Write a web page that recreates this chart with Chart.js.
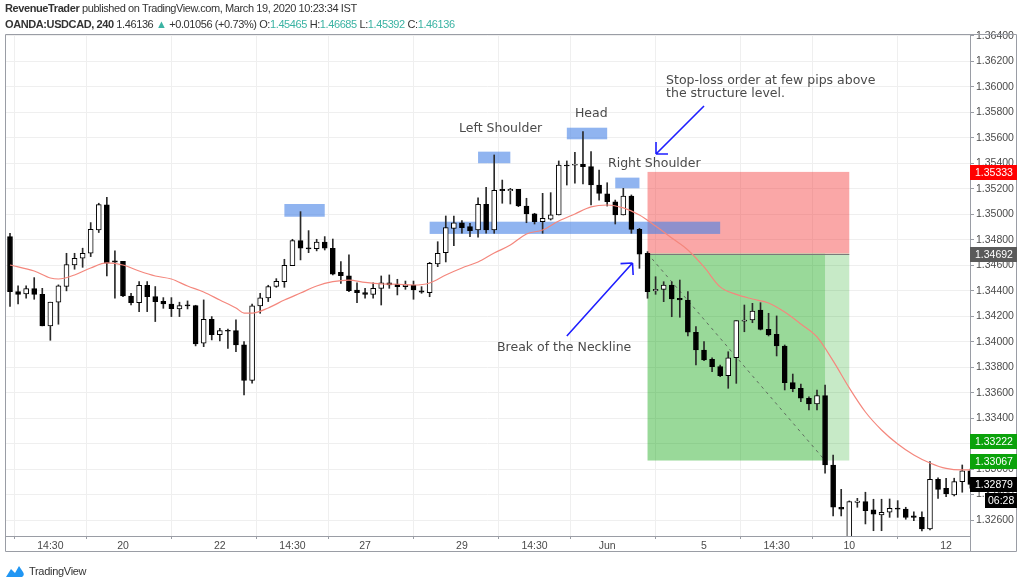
<!DOCTYPE html>
<html lang="en">
<head>
<meta charset="UTF-8">
<title>USDCAD 240 - Head and Shoulders</title>
<script src="https://cdn.jsdelivr.net/npm/chart.js"></script>
<style>
    body {
        margin: 0;
        background: #ffffff;
        width: 1024px;
        height: 586px;
        overflow: hidden;
        position: relative;
        font-family: 'Liberation Sans', sans-serif;
    }
    canvas {
        position: absolute;
        left: 0;
        top: 0;
    }
    .hdr {
        position: absolute;
        left: 5px;
        font-size: 11px;
        letter-spacing: -0.4px;
        color: #333;
        white-space: nowrap;
    }
    .hdr .v { color: #3bb3a3; }
    #foot {
        position: absolute;
        left: 5px;
        top: 564px;
        font-size: 11px;
        letter-spacing: -0.3px;
        color: #333;
        display: flex;
        align-items: center;
    }
    #foot svg { margin-right: 4px; }
</style>
</head>
<body>

<canvas id="chart" width="1024" height="586"></canvas>

<div class="hdr" style="top:2px"><b>RevenueTrader</b> published on TradingView.com, March 19, 2020 10:23:34 IST</div>
<div class="hdr" style="top:18px"><b>OANDA:USDCAD, 240</b> 1.46136 <span class="v">▲</span> +0.01056 (+0.73%) O:<span class="v">1.45465</span> H:<span class="v">1.46685</span> L:<span class="v">1.45392</span> C:<span class="v">1.46136</span></div>

<div id="foot">
    <svg width="20" height="14" viewBox="0 0 20 14">
        <path d="M1 13 L6 5 L10 9 L14 2 L18 8 Q20 11 17 13 Z" fill="#2196f3"/>
    </svg>
    TradingView
</div>

<script>
    // candles (4h bars), index 0..119
    const openP = [
        1.34825, 1.34393, 1.34375, 1.34417, 1.34372, 1.34124, 1.34310, 1.34433, 1.34603, 1.34655,
        1.34694, 1.34877, 1.35074, 1.34634, 1.34631, 1.34359, 1.34307, 1.34443, 1.34354, 1.34317,
        1.34296, 1.34257, 1.34283, 1.34283, 1.33988, 1.34176, 1.34056, 1.34087, 1.34087, 1.33975,
        1.33695, 1.34281, 1.34344, 1.34433, 1.34472, 1.34597, 1.34794, 1.34736, 1.34731, 1.34783,
        1.34733, 1.34545, 1.34518, 1.34406, 1.34385, 1.34372, 1.34419, 1.34463, 1.34453, 1.34432,
        1.34445, 1.34400, 1.34385, 1.34610, 1.34699, 1.34890, 1.34934, 1.34903, 1.34877, 1.35079,
        1.34877, 1.35196, 1.35185, 1.35196, 1.35065, 1.35003, 1.34942, 1.34961, 1.34995, 1.35387,
        1.35385, 1.35393, 1.35374, 1.35230, 1.35160, 1.35099, 1.34995, 1.35144, 1.34882, 1.34694,
        1.34398, 1.34411, 1.34445, 1.34341, 1.34327, 1.34074, 1.33935, 1.33862, 1.33804, 1.33733,
        1.33874, 1.34162, 1.34170, 1.34249, 1.34097, 1.34058, 1.33966, 1.33678, 1.33634, 1.33556,
        1.33511, 1.33576, 1.33032, 1.32700, 1.32450, 1.32739, 1.32744, 1.32679, 1.32639, 1.32661,
        1.32692, 1.32686, 1.32632, 1.32621, 1.32530, 1.32920, 1.32849, 1.32796, 1.32901, 1.32987
    ];
    const highP = [
        1.34851, 1.34438, 1.34438, 1.34503, 1.34419, 1.34310, 1.34446, 1.34694, 1.34694, 1.34734,
        1.34935, 1.35087, 1.35134, 1.34713, 1.34631, 1.34380, 1.34472, 1.34472, 1.34433, 1.34346,
        1.34346, 1.34310, 1.34320, 1.34286, 1.34328, 1.34197, 1.34105, 1.34098, 1.34171, 1.34001,
        1.34296, 1.34380, 1.34443, 1.34495, 1.34647, 1.34804, 1.35021, 1.34872, 1.34804, 1.34825,
        1.34806, 1.34628, 1.34681, 1.34463, 1.34419, 1.34463, 1.34516, 1.34524, 1.34490, 1.34476,
        1.34476, 1.34432, 1.34623, 1.34785, 1.34987, 1.34987, 1.34950, 1.34930, 1.35130, 1.35212,
        1.35466, 1.35269, 1.35204, 1.35196, 1.35126, 1.35008, 1.35165, 1.35170, 1.35419, 1.35419,
        1.35487, 1.35649, 1.35492, 1.35348, 1.35248, 1.35112, 1.35204, 1.35152, 1.34890, 1.34707,
        1.34510, 1.34471, 1.34471, 1.34484, 1.34393, 1.34118, 1.34000, 1.33874, 1.33817, 1.33921,
        1.34165, 1.34288, 1.34301, 1.34306, 1.34223, 1.34202, 1.33974, 1.33746, 1.33668, 1.33568,
        1.33621, 1.33660, 1.33110, 1.32841, 1.32750, 1.32770, 1.32818, 1.32763, 1.32763, 1.32765,
        1.32752, 1.32700, 1.32665, 1.32665, 1.33058, 1.32932, 1.32928, 1.32928, 1.33032, 1.33000
    ];
    const lowP = [
        1.34276, 1.34296, 1.34341, 1.34333, 1.34124, 1.34011, 1.34137, 1.34399, 1.34569, 1.34584,
        1.34668, 1.34857, 1.34516, 1.34341, 1.34354, 1.34289, 1.34236, 1.34236, 1.34158, 1.34262,
        1.34197, 1.34197, 1.34257, 1.33967, 1.33961, 1.34014, 1.34006, 1.33948, 1.33922, 1.33582,
        1.33674, 1.34223, 1.34315, 1.34427, 1.34427, 1.34597, 1.34642, 1.34699, 1.34713, 1.34720,
        1.34524, 1.34458, 1.34393, 1.34306, 1.34341, 1.34341, 1.34288, 1.34419, 1.34367, 1.34411,
        1.34333, 1.34380, 1.34353, 1.34589, 1.34626, 1.34754, 1.34851, 1.34824, 1.34820, 1.34851,
        1.34851, 1.35087, 1.35081, 1.35060, 1.34934, 1.34924, 1.34851, 1.34955, 1.34995, 1.35230,
        1.35244, 1.35238, 1.35073, 1.35112, 1.35065, 1.34924, 1.34995, 1.34851, 1.34576, 1.34341,
        1.34372, 1.34314, 1.34196, 1.34192, 1.34045, 1.33817, 1.33851, 1.33764, 1.33725, 1.33634,
        1.33673, 1.34078, 1.34149, 1.34092, 1.34045, 1.33888, 1.33621, 1.33607, 1.33529, 1.33464,
        1.33464, 1.32967, 1.32632, 1.32632, 1.32440, 1.32700, 1.32569, 1.32516, 1.32516, 1.32621,
        1.32621, 1.32606, 1.32595, 1.32514, 1.32522, 1.32770, 1.32783, 1.32789, 1.32818, 1.32850
    ];
    const closeP = [
        1.34393, 1.34372, 1.34417, 1.34372, 1.34124, 1.34310, 1.34438, 1.34605, 1.34655, 1.34694,
        1.34883, 1.35076, 1.34616, 1.34624, 1.34359, 1.34307, 1.34443, 1.34354, 1.34315, 1.34296,
        1.34260, 1.34283, 1.34281, 1.33982, 1.34176, 1.34056, 1.34087, 1.34082, 1.33975, 1.33695,
        1.34281, 1.34344, 1.34433, 1.34474, 1.34600, 1.34794, 1.34734, 1.34728, 1.34783, 1.34734,
        1.34531, 1.34518, 1.34400, 1.34385, 1.34372, 1.34419, 1.34463, 1.34445, 1.34432, 1.34447,
        1.34406, 1.34388, 1.34615, 1.34694, 1.34895, 1.34934, 1.34895, 1.34871, 1.35079, 1.34877,
        1.35189, 1.35185, 1.35196, 1.35065, 1.35003, 1.34942, 1.34969, 1.34995, 1.35387, 1.35379,
        1.35393, 1.35374, 1.35230, 1.35165, 1.35099, 1.34995, 1.35144, 1.34882, 1.34688, 1.34393,
        1.34411, 1.34445, 1.34335, 1.34327, 1.34074, 1.33935, 1.33856, 1.33804, 1.33733, 1.33874,
        1.34165, 1.34170, 1.34241, 1.34097, 1.34053, 1.33966, 1.33678, 1.33631, 1.33556, 1.33511,
        1.33576, 1.33032, 1.32700, 1.32686, 1.32744, 1.32749, 1.32673, 1.32645, 1.32661, 1.32692,
        1.32686, 1.32621, 1.32621, 1.32530, 1.32920, 1.32841, 1.32804, 1.32901, 1.32987, 1.32879
    ];

    // moving average line at these bar indexes
    const maIdx = [0, 3, 5, 6, 8, 10, 12, 14, 16, 18, 20, 22, 24, 26, 28, 29, 30, 32, 34, 36,
        38, 40, 42, 44, 46, 48, 50, 52, 54, 56, 58, 60, 62, 64, 66, 68, 70, 72, 74, 76,
        78, 80, 82, 84, 86, 88, 90, 92, 94, 96, 98, 100, 102, 104, 106, 108, 110, 112, 114, 116, 118, 119];
    const maVal = [1.34602, 1.34555, 1.34500, 1.34492, 1.34524, 1.34579, 1.34618, 1.34602, 1.34555, 1.34516,
        1.34492, 1.34437, 1.34390, 1.34327, 1.34265, 1.34225, 1.34225, 1.34265, 1.34327, 1.34382,
        1.34437, 1.34471, 1.34484, 1.34465, 1.34453, 1.34451, 1.34445, 1.34461, 1.34524, 1.34579,
        1.34626, 1.34696, 1.34759, 1.34846, 1.34877, 1.34948, 1.35003, 1.35058, 1.35073, 1.35050,
        1.34995, 1.34908, 1.34814, 1.34720, 1.34587, 1.34430, 1.34371, 1.34335, 1.34304, 1.34233,
        1.34139, 1.34037, 1.33849, 1.33637, 1.33448, 1.33307, 1.33197, 1.33111, 1.33048, 1.33005, 1.32993, 1.32993];

    // axes
    const xTickPos = [5, 14, 26, 35, 44, 56, 65, 74, 86, 95, 104, 116];
    const xTickLabels = ['14:30', '20', '22', '14:30', '27', '29', '14:30', 'Jun', '5', '14:30', '10', '12'];
    const yTickVals = [1.326, 1.328, 1.330, 1.332, 1.334, 1.336, 1.338, 1.340, 1.342, 1.344,
        1.346, 1.348, 1.350, 1.352, 1.354, 1.356, 1.358, 1.360, 1.362, 1.364];

    // position tool (entry / stop / target) and drawings
    const entryPrice = 1.34692, stopPrice = 1.35333, targetPrice = 1.33067;
    const posStart = 79, posHit = 101, posEnd = 104;
    const blueBoxes = [
        [34, 39, 1.35081, 1.34981],
        [58, 62, 1.35492, 1.35401],
        [69, 74, 1.35680, 1.35589],
        [75, 78, 1.35288, 1.35204],
        [52, 88, 1.34942, 1.34846]
    ];
    const notes = [
        ['Left Shoulder', 55.65, 1.35668],
        ['Head', 70.0, 1.35793],
        ['Right Shoulder', 74.1, 1.35400],
        ['Stop-loss order at few pips above', 81.3, 1.36049],
        ['the structure level.', 81.3, 1.35950],
        ['Break of the Neckline', 60.35, 1.33955]
    ];
    const arrows = [
        [86.0, 1.35850, 80.05, 1.35474],
        [69.0, 1.34045, 77.14, 1.34618]
    ];
    const priceMarks = [
        [1.35333, '#ff0000'],
        [1.34692, '#5a5a5a'],
        [1.33222, '#0ba20b'],
        [1.33067, '#0ba20b'],
        [1.32879, '#000000']
    ];
    const countdown = '06:28';

    const idx = openP.map((_, i) => i);
    const wickData = idx.map(i => ({ x: i, y: [lowP[i], highP[i]] }));
    const bodyData = idx.map(i => ({ x: i, y: [openP[i], closeP[i]] }));
    const bodyColors = idx.map(i => closeP[i] >= openP[i] ? '#ffffff' : '#000000');
    const maData = maIdx.map((x, k) => ({ x: x, y: maVal[k] }));

    const font = "'Liberation Sans', sans-serif";

    const drawings = {
        id: 'drawings',
        beforeDatasetsDraw(chart) {
            const c = chart.ctx, xs = chart.scales.x, ys = chart.scales.y;
            const X = v => xs.getPixelForValue(v), Y = v => ys.getPixelForValue(v);
            c.save();
            const a = chart.chartArea;
            c.beginPath();
            c.rect(a.left, a.top, a.right - a.left, a.bottom - a.top);
            c.clip();
            // stop zone
            c.fillStyle = 'rgba(245, 60, 60, 0.45)';
            c.fillRect(X(posStart), Y(stopPrice), X(posEnd) - X(posStart), Y(entryPrice) - Y(stopPrice));
            // target zone
            c.fillStyle = 'rgba(0, 160, 0, 0.40)';
            c.fillRect(X(posStart), Y(entryPrice), X(posHit) - X(posStart), Y(targetPrice) - Y(entryPrice));
            c.fillStyle = 'rgba(0, 160, 0, 0.22)';
            c.fillRect(X(posHit), Y(entryPrice), X(posEnd) - X(posHit), Y(targetPrice) - Y(entryPrice));
            // entry line
            c.strokeStyle = '#7a7a7a';
            c.lineWidth = 1;
            c.beginPath();
            c.moveTo(X(posStart), Math.round(Y(entryPrice)) + 0.5);
            c.lineTo(X(posEnd), Math.round(Y(entryPrice)) + 0.5);
            c.stroke();
            // dashed path to target
            c.strokeStyle = 'rgba(80, 80, 80, 0.8)';
            c.setLineDash([3, 4]);
            c.beginPath();
            c.moveTo(X(posStart), Y(entryPrice));
            c.lineTo(X(posHit), Y(targetPrice));
            c.stroke();
            c.setLineDash([]);
            // blue boxes
            c.fillStyle = 'rgba(70, 130, 230, 0.6)';
            blueBoxes.forEach(b => {
                c.fillRect(X(b[0]), Y(b[2]), X(b[1]) - X(b[0]), Y(b[3]) - Y(b[2]));
            });
            c.restore();
        },
        afterDatasetsDraw(chart) {
            const c = chart.ctx, xs = chart.scales.x, ys = chart.scales.y;
            const X = v => xs.getPixelForValue(v), Y = v => ys.getPixelForValue(v);
            c.save();
            // arrows
            c.strokeStyle = '#1f1fff';
            c.lineWidth = 1.6;
            arrows.forEach(ar => {
                const x1 = X(ar[0]), y1 = Y(ar[1]), x2 = X(ar[2]), y2 = Y(ar[3]);
                const ang = Math.atan2(y2 - y1, x2 - x1);
                c.beginPath();
                c.moveTo(x1, y1);
                c.lineTo(x2, y2);
                [Math.PI * 0.75, -Math.PI * 0.75].forEach(d => {
                    c.moveTo(x2, y2);
                    c.lineTo(x2 + 12 * Math.cos(ang + d), y2 + 12 * Math.sin(ang + d));
                });
                c.stroke();
            });
            // labels
            c.fillStyle = '#4a4a4a';
            c.font = "12.5px 'DejaVu Sans', Verdana, sans-serif";
            c.textBaseline = 'middle';
            c.textAlign = 'left';
            notes.forEach(n => c.fillText(n[0], X(n[1]), Y(n[2])));
            c.restore();
        },
        afterDraw(chart) {
            const c = chart.ctx, ys = chart.scales.y, a = chart.chartArea;
            c.save();
            // frame
            c.strokeStyle = '#9a9da5';
            c.lineWidth = 1;
            c.beginPath();
            c.moveTo(a.left + 0.5, a.top + 0.5);
            c.lineTo(1016.5, a.top + 0.5);
            c.lineTo(1016.5, 551.5);
            c.lineTo(a.left + 0.5, 551.5);
            c.closePath();
            c.moveTo(a.right + 0.5, a.bottom);
            c.lineTo(a.right + 0.5, 551.5);
            c.stroke();
            // price labels
            c.font = '10.5px ' + font;
            c.textBaseline = 'middle';
            c.textAlign = 'left';
            let lastY = 0;
            priceMarks.forEach(p => {
                const y = Math.round(ys.getPixelForValue(p[0]));
                c.fillStyle = p[1];
                c.fillRect(a.right, y - 7, 47, 15);
                c.fillStyle = '#ffffff';
                c.fillText(p[0].toFixed(5), a.right + 5, y + 1);
                lastY = y;
            });
            c.fillStyle = '#000000';
            c.fillRect(a.right + 15, lastY + 9, 32, 15);
            c.fillStyle = '#ffffff';
            c.fillText(countdown, a.right + 18, lastY + 17);
            c.restore();
        }
    };

    new Chart(document.getElementById('chart').getContext('2d'), {
        type: 'bar',
        data: {
            datasets: [
                {
                    type: 'line',
                    data: maData,
                    borderColor: '#f4877d',
                    borderWidth: 1.2,
                    pointRadius: 0,
                    cubicInterpolationMode: 'monotone',
                    order: 0
                },
                {
                    data: wickData,
                    backgroundColor: '#2a2a2a',
                    barThickness: 1,
                    grouped: false,
                    order: 2
                },
                {
                    data: bodyData,
                    backgroundColor: bodyColors,
                    borderColor: '#000000',
                    borderWidth: 1,
                    borderSkipped: false,
                    barThickness: 5,
                    minBarLength: 1,
                    grouped: false,
                    order: 1
                }
            ]
        },
        plugins: [drawings],
        options: {
            responsive: false,
            animation: false,
            devicePixelRatio: 1,
            layout: { padding: { left: 5, top: 34, right: 7, bottom: 35 } },
            plugins: {
                legend: { display: false },
                tooltip: { enabled: false }
            },
            scales: {
                x: {
                    type: 'linear',
                    min: -0.62,
                    max: 118.96,
                    offset: false,
                    grid: { color: '#efefef', tickLength: 3, tickColor: '#9a9da5' },
                    border: { color: '#9a9da5' },
                    ticks: {
                        font: { size: 10.5, family: font },
                        color: '#4a4a4a',
                        padding: 1,
                        maxRotation: 0,
                        autoSkip: false,
                        callback: (v, i) => xTickLabels[i]
                    },
                    afterBuildTicks: s => { s.ticks = xTickPos.map(v => ({ value: v })); },
                    afterFit: s => { s.height = 15; }
                },
                y: {
                    position: 'right',
                    min: 1.324744,
                    max: 1.364157,
                    grid: { color: '#efefef', tickLength: 4, tickColor: '#9a9da5' },
                    border: { color: '#9a9da5' },
                    ticks: {
                        font: { size: 10.5, family: font },
                        color: '#4a4a4a',
                        padding: 2,
                        callback: v => v.toFixed(5)
                    },
                    afterBuildTicks: s => { s.ticks = yTickVals.map(v => ({ value: v })); },
                    afterFit: s => { s.width = 47; }
                }
            }
        }
    });
</script>

</body>
</html>
